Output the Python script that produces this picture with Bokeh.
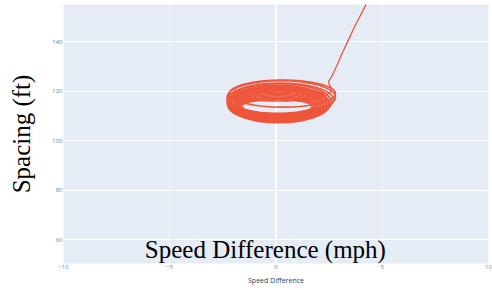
from bokeh.plotting import figure
from bokeh.models import Label, Span, FixedTicker, Range1d
from bokeh.embed import file_html
from bokeh.resources import INLINE

# ---- data ----
x_ticks = [-10, -5, 0, 5, 10]
y_ticks = [60, 80, 100, 120, 140]

# oscillation loops (centre x, centre y, width, height)
loop_cx = [0.05, 0.05, 0.06, 0.06, 0.07, 0.08, 0.08, 0.09, 0.10, 0.10, 0.11, 0.12, 0.12, 0.15, 0.20, 0.25, 0.10, 0.30]
loop_cy = [113.8, 113.9, 114.0, 114.1, 114.2, 114.3, 114.4, 114.5, 114.6, 114.6, 114.7, 114.7, 114.8, 115.5, 116.5, 117.5, 118.5, 119.0]
loop_w = [3.30, 3.45, 3.55, 3.70, 3.80, 3.95, 4.05, 4.20, 4.30, 4.45, 4.55, 4.70, 4.80, 4.90, 5.00, 5.10, 4.30, 5.00]
loop_h = [5.6, 6.4, 7.2, 8.0, 8.8, 9.6, 10.4, 11.2, 12.0, 12.8, 13.6, 14.4, 15.2, 15.0, 13.5, 13.5, 5.0, 11.0]

# initial approach trajectory
tail_x = [2.30, 2.55, 2.62, 2.50, 2.48, 2.60, 2.85, 3.10, 3.40, 3.70, 4.00, 4.30]
tail_y = [118.0, 119.5, 121.0, 122.8, 124.0, 125.5, 130.0, 135.0, 140.5, 146.0, 151.0, 156.0]

LINE = "#EF553B"
TICK_C = "#74808f"

p = figure(width=492, height=290, output_backend="svg", toolbar_location=None,
           x_range=Range1d(-10, 10), y_range=Range1d(50.3, 155.0),
           min_border_left=63, min_border_right=4, min_border_top=4, min_border_bottom=27)
p.background_fill_color = "#E5ECF6"
p.border_fill_color = "white"
p.outline_line_color = None

p.xgrid.grid_line_color = "white"
p.xgrid.grid_line_alpha = 0.55
p.ygrid.grid_line_color = "white"
p.ygrid.grid_line_width = 1

p.xaxis.ticker = FixedTicker(ticks=x_ticks)
p.yaxis.ticker = FixedTicker(ticks=y_ticks)
p.xaxis.major_label_overrides = {-10: "\u221210", -5: "\u22125"}

for ax in (p.xaxis[0], p.yaxis[0]):
    ax.axis_line_color = None
    ax.major_tick_line_color = None
    ax.minor_tick_line_color = None
    ax.major_tick_out = 0
    ax.major_tick_in = 0
    ax.minor_tick_out = 0
    ax.minor_tick_in = 0
    ax.major_label_text_font = "Open Sans"
    ax.major_label_text_font_size = "6px"
    ax.major_label_text_color = TICK_C
    ax.major_label_standoff = 1

p.xaxis.axis_label = "Speed Difference"
p.xaxis.axis_label_text_font = "Open Sans"
p.xaxis.axis_label_text_font_style = "normal"
p.xaxis.axis_label_text_font_size = "7px"
p.xaxis.axis_label_text_color = "#2a3f5f"
p.xaxis.axis_label_standoff = 4

p.yaxis.axis_label = "Spacing (ft)"
p.yaxis.axis_label_text_font = "Liberation Serif"
p.yaxis.axis_label_text_font_style = "normal"
p.yaxis.axis_label_text_font_size = "25px"
p.yaxis.axis_label_text_color = "black"
p.yaxis.axis_label_standoff = 14

p.add_layout(Span(location=0, dimension="height", line_color="white", line_width=2,
                  level="underlay"))

p.ellipse(x=loop_cx, y=loop_cy, width=loop_w, height=loop_h,
          fill_color=None, line_color=LINE, line_width=1.6)
p.line(tail_x, tail_y, line_color=LINE, line_width=1.3)

p.add_layout(Label(x=-0.5, y=55.9, text="Speed Difference (mph)", text_align="center",
                   text_baseline="alphabetic", text_font="Liberation Serif",
                   text_font_size="25px", text_color="black"))

open("out.html", "w").write(file_html(p, INLINE))
